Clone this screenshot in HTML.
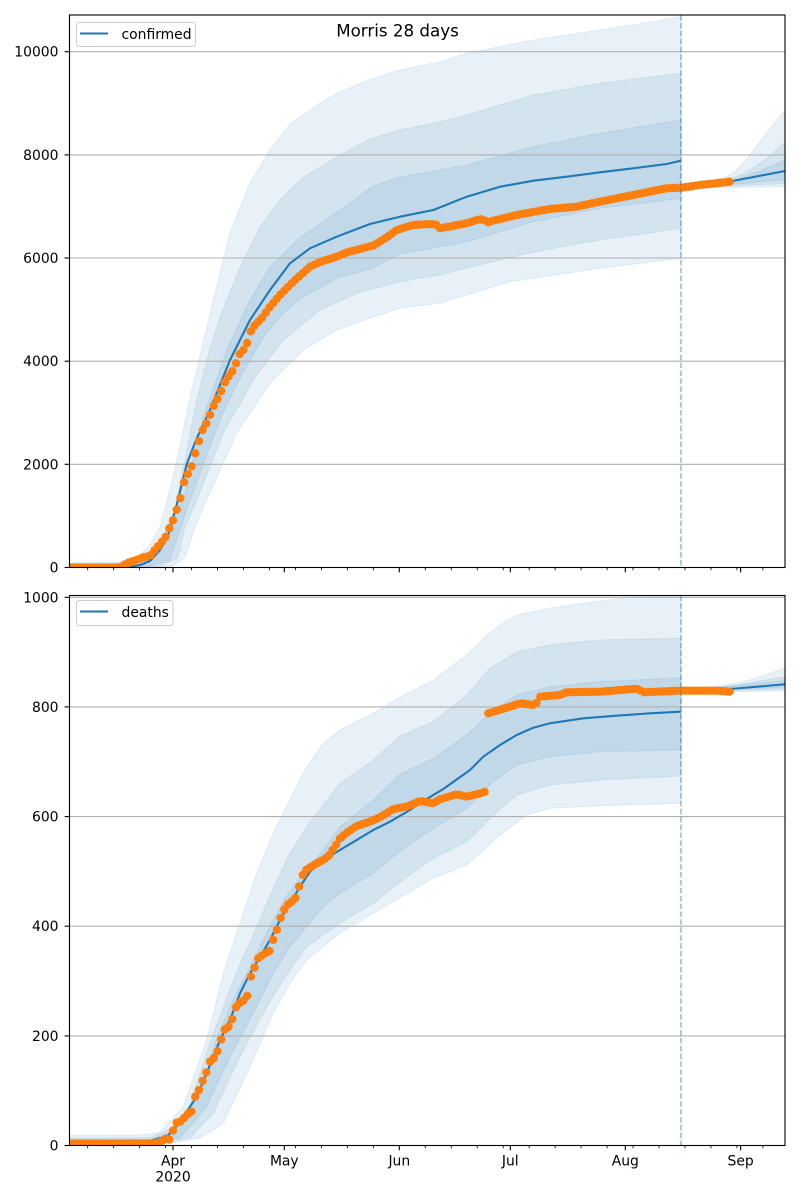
<!DOCTYPE html>
<html><head><meta charset="utf-8"><style>
html,body{margin:0;padding:0;background:#fff;}
svg{display:block;}
text{font-family:"DejaVu Sans","Liberation Sans",sans-serif;fill:#000;}
</style></head><body>
<svg id="s" width="800" height="1200" viewBox="0 0 800 1200" xmlns="http://www.w3.org/2000/svg">
<defs>
<clipPath id="c1"><rect x="69.5" y="15" width="715.5" height="552.5"/></clipPath>
<clipPath id="c2"><rect x="69.5" y="595.5" width="715.5" height="550"/></clipPath>
</defs>
<rect width="800" height="1200" fill="#fff"/>
<g id="g1" clip-path="url(#c1)"></g>
<g id="g2" clip-path="url(#c2)"></g>
<g id="ax"></g>

<text x="397.5" y="36.5" font-size="16.7" text-anchor="middle">Morris 28 days</text>

<g font-size="13.9" text-anchor="end">
<text x="58.5" y="572.5">0</text>
<text x="58.5" y="469.4">2000</text>
<text x="58.5" y="366.2">4000</text>
<text x="58.5" y="263">6000</text>
<text x="58.5" y="159.9">8000</text>
<text x="58.5" y="56.7">10000</text>
<text x="58.5" y="1150.5">0</text>
<text x="58.5" y="1040.9">200</text>
<text x="58.5" y="931.2">400</text>
<text x="58.5" y="821.6">600</text>
<text x="58.5" y="711.9">800</text>
<text x="58.5" y="602.3">1000</text>
</g>
<g font-size="13.9" text-anchor="middle">
<text x="173" y="1165.5">Apr</text>
<text x="173" y="1181.5">2020</text>
<text x="284.3" y="1165.5">May</text>
<text x="399.3" y="1165.5">Jun</text>
<text x="510.3" y="1165.5">Jul</text>
<text x="625.3" y="1165.5">Aug</text>
<text x="740.6" y="1165.5">Sep</text>
</g>

<rect x="76.5" y="22.5" width="119" height="24" rx="3" fill="#fff" fill-opacity="0.8" stroke="#cccccc" stroke-width="1"/>
<line x1="80" y1="33.5" x2="108" y2="33.5" stroke="#1f77b4" stroke-width="2.08"/>
<text x="121.5" y="39" font-size="13.9">confirmed</text>

<rect x="76.5" y="600.5" width="96.5" height="25" rx="3" fill="#fff" fill-opacity="0.8" stroke="#cccccc" stroke-width="1"/>
<line x1="80" y1="611.5" x2="108" y2="611.5" stroke="#1f77b4" stroke-width="2.08"/>
<text x="121.5" y="617" font-size="13.9">deaths</text>
</svg>
<script>
(function(){
var NS="http://www.w3.org/2000/svg";
function el(p,tag,attrs){var e=document.createElementNS(NS,tag);for(var k in attrs)e.setAttribute(k,attrs[k]);p.appendChild(e);return e;}
function lerp(pts,x){if(x<=pts[0][0])return pts[0][1];for(var i=1;i<pts.length;i++){if(x<=pts[i][0]){var a=pts[i-1],b=pts[i];return a[1]+(b[1]-a[1])*(x-a[0])/(b[0]-a[0]);}}return pts[pts.length-1][1];}
function pstr(pts){return pts.map(function(p){return p[0].toFixed(1)+","+p[1].toFixed(1);}).join(" ");}
function band(g,up,lo){var pts=up.concat(lo.slice().reverse());el(g,"polygon",{points:pstr(pts),fill:"#1f77b4","fill-opacity":"0.1",stroke:"#1f77b4","stroke-opacity":"0.1","stroke-width":"1"});}
function line(g,pts){el(g,"polyline",{points:pstr(pts),fill:"none",stroke:"#1f77b4","stroke-width":"2.08","stroke-linejoin":"round"});}
function grid(g,ys){ys.forEach(function(y){el(g,"line",{x1:69.5,x2:785,y1:y,y2:y,stroke:"#b0b0b0","stroke-width":"1.1"});});}
function dots(g,pts){var X0=69.1,DX=3.71;for(var t=0;t<=178;t++){var x=X0+DX*t;el(g,"circle",{cx:x.toFixed(2),cy:lerp(pts,x).toFixed(2),r:"4.2",fill:"#ff7f0e"});}}
function vline(g,y1,y2){el(g,"line",{x1:681,x2:681,y1:y1,y2:y2,stroke:"#1f77b4","stroke-opacity":"0.5","stroke-width":"1.5","stroke-dasharray":"5.5 2.4"});}

// ---------- confirmed ----------
var cMed=[[69.5,567.5],[130,567],[140,565],[150,561],[160,550],[168,536],[176.7,505],[186.7,464.3],[196,440],[210,410],[230,360],[250,320],[270,290],[290,263.3],[310,248.3],[336.7,236.7],[370,224],[400,216.7],[433.3,210],[466.7,196.7],[500,186.7],[533.3,180.7],[566.7,176.7],[600,172.3],[633.3,168.3],[666.7,164],[681,160.7]];
var cMedF=[[681,188.3],[730,181.5],[785,171]];
var cOU=[[69.5,563],[120,562],[140,555],[150,545],[160,526.7],[173.3,476.7],[190,398],[213.3,300],[230,233],[250,183],[270,150],[290,124],[320,103],[340,92],[356.7,85],[373.3,78.3],[400,70],[440,61.7],[466.7,53.3],[533.3,40],[600,30],[633.3,25],[681,16.7]];
var cMU=[[69.5,565],[130,564],[150,555],[160,542],[173.3,515],[185,460],[196.7,400],[208,355],[220,317],[240,267],[260,227],[280,200],[303.3,177],[336.7,157],[370,139],[400,130],[440,121.7],[466.7,115],[533.3,95],[600,83.3],[681,73.3]];
var cIU=[[69.5,566],[140,565],[160,548],[172,515],[183.3,500],[203.3,417],[226.7,350],[250,300],[270,267],[296.7,240],[330,217],[373.3,186],[400,177],[440,170],[466.7,165],[533.3,146.7],[600,133.3],[681,120]];
var cIL=[[69.5,567],[150,566],[170,560],[180,530],[190,500],[205,460],[220,420],[235,388],[250,360],[265,335],[280,317],[295,303],[310,293],[340,277],[373.3,268],[400,254],[440,247],[466.7,241.7],[533.3,221.7],[600,208.3],[681,198.3]];
var cML=[[69.5,567.5],[160,566],[178,558],[185,527],[196.7,500],[223.3,433],[253.3,380],[283.3,340],[320,310],[360,292],[400,281.7],[440,275],[466.7,268],[533.3,252],[600,240],[681,228.3]];
var cOL=[[69.5,567.5],[170,567],[185,558],[195,527],[206.7,500],[236.7,433],[270,383],[303.3,350],[336.7,330],[370,318],[400,308.3],[440,303.3],[466.7,295],[510,281.7],[600,268.3],[681,258.3]];
var cOUf=[[681,188],[700,186],[720,180],[735,172],[750,155],[765,135],[785,110]];
var cMUf=[[681,188],[720,183],[745,173],[765,160],[785,142]];
var cIUf=[[681,188],[730,181],[760,171],[785,160]];
var cILf=[[681,188.5],[785,180]];
var cMLf=[[681,188.5],[785,183.5]];
var cOLf=[[681,188.5],[785,186.5]];
var cD=[[69.5,567.5],[120,567.5],[126.7,563.3],[136.7,560],[143.3,557.3],[150,556],[153.3,551.7],[160,544],[165,538.3],[168.3,530],[171.7,524],[173.3,519.3],[176,511.7],[180,500],[183.3,484],[187.7,474.3],[191.7,466],[195.7,451.7],[199.3,440],[201.7,431.7],[206,424.3],[210,415],[213.3,406.7],[216.7,400.7],[221.7,390],[223.3,385],[229.3,375],[233.3,370],[236.7,361.7],[240,353.3],[246,347.3],[250,332.7],[255,325],[261.7,318.3],[270,306.7],[280,295],[293.3,281.7],[310,266.7],[320,262],[336.7,256.7],[346.7,252.5],[360,249],[373.3,245.5],[386.7,237.5],[396.7,230],[413.3,225],[430,224],[436,224.5],[440,228.3],[466.7,223.3],[480,219],[486,221],[488.3,222.3],[492,221],[516.7,215],[550,209],[576.7,206.7],[600,201.7],[633.3,195],[666.7,188.3],[681.7,187.7],[700,185],[730,181.7]];

var g1=document.getElementById("g1");
band(g1,cOU,cOL);band(g1,cMU,cML);band(g1,cIU,cIL);
band(g1,cOUf,cOLf);band(g1,cMUf,cMLf);band(g1,cIUf,cILf);
grid(g1,[567.5,464.3,361.2,258,154.9,51.7]);
line(g1,cMed);line(g1,cMedF);
dots(g1,cD);
vline(g1,15,567.5);

// ---------- deaths ----------
var dMed=[[69.5,1141.5],[150,1141],[160,1138],[166.7,1136.7],[175,1128],[183.3,1116.7],[196.7,1096.7],[206.7,1073.3],[220,1040],[230,1020],[240,993.3],[250,973.3],[260,956.7],[270,940],[280,920],[290,903.3],[300,886.7],[310,871.7],[323.3,860],[340,850],[356.7,840],[373.3,830],[390,821.7],[406.7,812],[423.3,801],[443.3,789],[470,770],[483.3,756.7],[500,745],[516.7,735],[533.3,727.7],[550,723.3],[583.3,718.3],[616.7,715.7],[650,713.3],[681,711.7]];
var dMedF=[[681,691],[730,689],[785,684.3]];
var dOU=[[69.5,1135.5],[140,1135],[150,1134],[160,1132],[183.3,1106.7],[206.7,1040],[223.3,973.3],[240,923.3],[256.7,873.3],[273.3,833.3],[290,800],[306.7,766.7],[323.3,743.3],[340,730],[373.3,713.3],[400,697],[433.3,680],[466.7,655],[483.3,638.3],[500,625],[516.7,615],[550,608.3],[583.3,603.3],[633.3,596.7],[681,592]];
var dMU=[[69.5,1138],[150,1137.5],[183.3,1123.3],[211,1040],[236,973.3],[254,933.3],[271,893.3],[288,856.7],[306.7,826.7],[340,783.3],[373.3,760],[400,736],[433.3,721.7],[466.7,695],[490,668.3],[516.7,651.7],[550,645],[600,640],[681,638.3]];
var dIU=[[69.5,1140],[150,1139.5],[175,1131],[200,1095],[216,1040],[233,1000],[250,966.7],[268,930],[286,896.7],[303,873.3],[323.3,850],[340,826.7],[373.3,800],[400,774],[433.3,758.3],[466.7,735],[493.3,710],[516.7,695],[550,686.7],[600,681.7],[681,677.7]];
var dIL=[[69.5,1143],[150,1142.5],[180,1138],[206.7,1106.7],[230,1056.7],[256.7,1006.7],[273.3,973.3],[290,946.7],[306.7,926.7],[323.3,906.7],[340,893.3],[373.3,873.3],[403,849],[433.3,828.3],[466.7,808.3],[493.3,781.7],[516.7,765],[550,756.7],[600,751.7],[681,750]];
var dML=[[69.5,1143.5],[160,1143],[190,1138],[213.3,1113.3],[240,1056.7],[266.7,1006.7],[290,970],[306.7,946.7],[340,923.3],[373.3,903.3],[403,880],[433.3,858.3],[466.7,841.7],[493.3,815],[516.7,795],[550,785],[600,780],[681,776]];
var dOL=[[69.5,1144],[170,1143.5],[200,1138],[223.3,1123.3],[250,1066.7],[273.3,1013.3],[290,983.3],[306.7,960],[340,933.3],[373.3,913.3],[403,896],[433.3,878.3],[466.7,865],[500,835],[526.7,815],[550,808.3],[600,805.7],[681,803.3]];
var dOUf=[[681,691],[720,686],[750,680],[785,668]];
var dMUf=[[681,691],[730,686],[785,676.7]];
var dIUf=[[681,691],[785,680.5]];
var dILf=[[681,691.5],[785,687]];
var dMLf=[[681,692],[785,689]];
var dOLf=[[681,692],[785,691]];
var dD=[[69,1143.5],[155,1143.5],[158.2,1142.5],[161.9,1141],[165.6,1138.5],[169.3,1139.5],[173,1130.5],[176.7,1122.7],[180.4,1121.5],[184.1,1118],[187.8,1114],[191.5,1111.7],[195.2,1096.7],[199.3,1089.3],[202.7,1080.7],[206.7,1071.7],[210,1061.7],[216,1056],[221,1040],[225,1029.3],[228.3,1027.3],[232.7,1018.3],[236.7,1005],[241.7,1001.7],[246.7,998.3],[251,976],[254.3,968.3],[258.3,958.3],[265,953.3],[270,950.7],[273.3,939.3],[276,932.7],[280,919.3],[284,910],[288.3,904],[295,899.3],[299.3,886],[301.7,876.7],[306,870],[313.3,865.3],[321.7,860.7],[328.3,856.7],[330,853.3],[335,846.7],[340,838.3],[348.3,831.7],[356.7,826],[370,821.7],[380,817.3],[393.3,809],[406.7,806.7],[420,801],[433.3,803.3],[440,799.3],[456.7,794.3],[466.7,796.7],[484.6,792.3],[488.3,713.3],[510,706.7],[520,703.3],[533.3,705],[536,704],[540,696.7],[560,695],[566.7,692.3],[600,691.7],[633.3,689],[638,689],[643.3,692.3],[680,690.7],[716.7,690.7],[730,691.7]];

var g2=document.getElementById("g2");
band(g2,dOU,dOL);band(g2,dMU,dML);band(g2,dIU,dIL);
band(g2,dOUf,dOLf);band(g2,dMUf,dMLf);band(g2,dIUf,dILf);
grid(g2,[1145.5,1035.9,926.2,816.6,706.9,597.3]);
line(g2,dMed);line(g2,dMedF);
dots(g2,dD);
vline(g2,595.5,1145.5);

// ---------- axes ----------
var ax=document.getElementById("ax");
function spines(top,bot){el(ax,"rect",{x:69.5,y:top,width:715.5,height:bot-top,fill:"none",stroke:"#000","stroke-width":"1.1"});}
spines(15,567.5);spines(595.5,1145.5);
function yticks(ys){ys.forEach(function(y){el(ax,"line",{x1:64.6,x2:69.5,y1:y,y2:y,stroke:"#000","stroke-width":"1.1"});});}
yticks([567.5,464.3,361.2,258,154.9,51.7]);
yticks([1145.5,1035.9,926.2,816.6,706.9,597.3]);
var majors=[173,284.3,399.3,510.3,625.3,740.6];
var minorDays=[-23,-16,-9,-2,5,12,19,26,33,40,47,54,68,75,82,89,96,103,110,117,124,131,138,145,152,159];
[567.5,1145.5].forEach(function(yb){
  majors.forEach(function(x){el(ax,"line",{x1:x,x2:x,y1:yb,y2:yb+4.86,stroke:"#000","stroke-width":"1.1"});});
  minorDays.forEach(function(d){var x=173+3.71*d;el(ax,"line",{x1:x,x2:x,y1:yb,y2:yb+2.78,stroke:"#000","stroke-width":"0.83"});});
});
})();
</script>
</body></html>
